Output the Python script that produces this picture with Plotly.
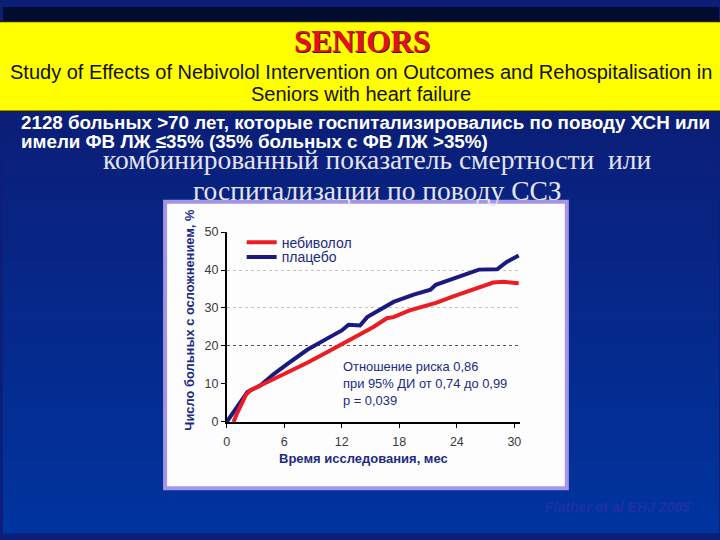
import plotly.graph_objects as go

# ---------------- data ----------------
months_placebo = [0, 1.8, 2.15, 3.5, 4.9, 6.3, 8.4, 10.5, 12.0, 12.7, 13.9, 14.65, 16.0,
                  17.4, 19.5, 21.25, 21.8, 23.7, 25.4, 26.3, 28.2, 29.2, 30.45]
placebo = [0, 6.7, 7.9, 9.6, 12.6, 15.2, 19.0, 22.0, 24.1, 25.6, 25.4, 27.6, 29.7,
           31.6, 33.5, 34.8, 36.1, 37.8, 39.1, 40.1, 40.2, 42.1, 43.8]

months_nebivolol = [0.7, 1.1, 2.0, 2.5, 3.5, 4.9, 6.3, 8.4, 10.5, 12.0, 13.9, 15.3, 16.7,
                    17.4, 19.0, 20.6, 21.9, 23.7, 25.4, 27.0, 27.8, 28.9, 30.45]
nebivolol = [0, 2.4, 7.1, 8.4, 9.6, 11.3, 12.8, 15.6, 18.4, 20.5, 23.3, 25.0, 27.3,
             27.6, 29.3, 30.4, 31.4, 33.1, 34.6, 36.1, 36.7, 36.9, 36.5]

x_ticks = [0, 6, 12, 18, 24, 30]
y_ticks = [0, 10, 20, 30, 40, 50]
grid_light = [30, 40, 50]
grid_dark = [20]

series_names = ["небиволол", "плацебо"]

W, H = 720, 540


def px(x):
    return x / W


def py(y):
    return 1 - y / H


fig = go.Figure()

fig.add_trace(go.Scatter(x=months_placebo, y=placebo, mode="lines", name=series_names[1],
                         line=dict(color="#1a1a7e", width=4), xaxis="x", yaxis="y",
                         legend="legend2"))
fig.add_trace(go.Scatter(x=months_nebivolol, y=nebivolol, mode="lines", name=series_names[0],
                         line=dict(color="#ec1c24", width=4), xaxis="x", yaxis="y",
                         legend="legend"))

shapes = []
# dark top strip
shapes.append(dict(type="rect", xref="paper", yref="paper", x0=0, x1=1, y0=py(15), y1=1,
                   fillcolor="#020b30", line_width=0, layer="below"))
# gradient background
n = 40
top, bot = 107, 540
c0 = (0x0b, 0x1e, 0x78)
c1 = (0x00, 0x34, 0x9e)
for i in range(n):
    t = i / (n - 1)
    col = "rgb(%d,%d,%d)" % tuple(int(round(a + (b - a) * t)) for a, b in zip(c0, c1))
    y0 = top + (bot - top) * i / n
    y1 = top + (bot - top) * (i + 1) / n
    shapes.append(dict(type="rect", xref="paper", yref="paper", x0=0, x1=1,
                       y0=py(y1 + 0.5), y1=py(y0), fillcolor=col, line_width=0, layer="below"))
# yellow banner
shapes.append(dict(type="rect", xref="paper", yref="paper", x0=-0.01, x1=1.01, y0=py(107), y1=py(15),
                   fillcolor="#ffff00", line=dict(color="#222222", width=1.5), layer="below"))
# chart panel
shapes.append(dict(type="rect", xref="paper", yref="paper", x0=px(163), x1=px(567),
                   y0=py(494), y1=py(200), fillcolor="#fdfdfd",
                   line=dict(color="#a496e4", width=4), layer="below"))


def ann(text, x, y, size, color, family="Liberation Sans", xanchor="center", **kw):
    d = dict(text=text, x=px(x), y=py(y), xref="paper", yref="paper", showarrow=False,
             xanchor=xanchor, yanchor="middle",
             font=dict(family=family, size=size, color=color))
    d.update(kw)
    return d


annotations = [
    ann("<b>SENIORS</b>", 362.5, 36.5, 31, "#4a1010", family="Liberation Serif"),
    ann("<b>SENIORS</b>", 361, 35, 31, "#e3101c", family="Liberation Serif"),
    ann("Study of Effects of Nebivolol Intervention on Outcomes and Rehospitalisation in",
        360, 67, 20, "#111111"),
    ann("Seniors with heart failure", 360, 89, 20, "#111111"),
    ann("<b>2128 больных >70 лет, которые госпитализировались по поводу ХСН или</b>",
        16, 119, 18.8, "#ffffff", xanchor="left"),
    ann("<b>имели ФВ ЛЖ ≤35% (35% больных с ФВ ЛЖ >35%)</b>",
        16, 138, 18.8, "#ffffff", xanchor="left"),
    ann("комбинированный показатель смертности  или", 376, 157, 27.5, "#e4e4f2",
        family="Liberation Serif"),
    ann("госпитализации по поводу ССЗ", 377, 188, 27.5, "#e4e4f2", family="Liberation Serif"),
    ann("<b>Число больных с осложнением, %</b>", 188, 321, 12.9, "#1c2a84", textangle=-90),
    ann("<b>Время исследования, мес</b>", 363, 464, 13, "#1c2a84"),
    ann("Отношение риска 0,86<br>при 95% ДИ от 0,74 до 0,99<br>p = 0,039", 340, 387, 12.9,
        "#1c2a84", xanchor="left", align="left"),
    ann("<b><i>Flather et al EHJ 2005</i></b>", 618, 513, 14, "#1f2fa8"),
]

xdom = [px(225), px(520)]
ydom = [py(426), py(231)]

legend_common = dict(xanchor="left", yanchor="middle", bgcolor="rgba(0,0,0,0)", itemwidth=30,
                     font=dict(family="Liberation Sans", size=14, color="#1c2a84"))

fig.update_layout(
    width=W, height=H,
    margin=dict(l=0, r=0, t=0, b=0),
    paper_bgcolor="#0b1e78",
    plot_bgcolor="rgba(0,0,0,0)",
    shapes=shapes,
    annotations=annotations,
    showlegend=True,
    legend=dict(x=px(240), y=py(242), **legend_common),
    legend2=dict(x=px(240), y=py(257), **legend_common),
    xaxis=dict(domain=xdom, range=[0, 30.6], tickvals=x_ticks, showgrid=False, zeroline=False,
               showline=True, linecolor="#000000", linewidth=1.5, ticks="outside", ticklen=4,
               tickcolor="#000000", anchor="y", ticklabelstandoff=3,
               tickfont=dict(family="Liberation Sans", size=12.5, color="#3a3a3a")),
    yaxis=dict(domain=ydom, range=[0, 50], tickvals=y_ticks, showgrid=False, zeroline=False,
               showline=True, linecolor="#000000", linewidth=1.5, ticks="outside", ticklen=4,
               tickcolor="#000000", anchor="x",
               tickfont=dict(family="Liberation Sans", size=12.5, color="#3a3a3a")),
    yaxis2=dict(domain=ydom, range=[0, 50], tickvals=grid_light, overlaying="y", anchor="x",
                showgrid=True, gridcolor="#c4c4c4", griddash="dot", gridwidth=1,
                showticklabels=False, zeroline=False, showline=False, layer="below traces"),
    yaxis3=dict(domain=ydom, range=[0, 50], tickvals=grid_dark, overlaying="y", anchor="x",
                showgrid=True, gridcolor="#555555", griddash="dot", gridwidth=1,
                showticklabels=False, zeroline=False, showline=False, layer="below traces"),
)

# invisible traces to activate grid axes
fig.add_trace(go.Scatter(x=[0], y=[0], mode="markers", marker=dict(opacity=0), showlegend=False,
                         hoverinfo="skip", xaxis="x", yaxis="y2"))
fig.add_trace(go.Scatter(x=[0], y=[0], mode="markers", marker=dict(opacity=0), showlegend=False,
                         hoverinfo="skip", xaxis="x", yaxis="y3"))

fig.write_html("out.html", config={"displayModeBar": False},
               post_script="document.body.style.margin='0';document.body.style.overflow='hidden';")
